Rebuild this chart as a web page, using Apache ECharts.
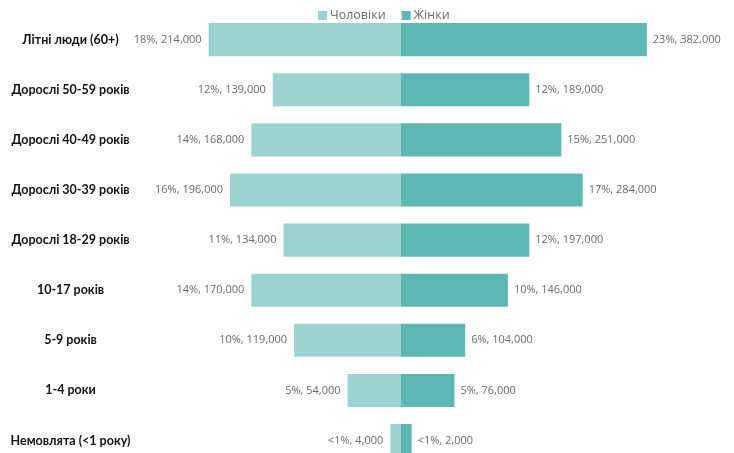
<!DOCTYPE html>
<html>
<head>
<meta charset="utf-8">
<script src="https://cdn.jsdelivr.net/npm/echarts@6/dist/echarts.min.js"></script>
<style>
html,body{margin:0;padding:0;background:#fff;}
#chart{width:734px;height:453px;}
</style>
</head>
<body>
<div id="chart"></div>
<script>
const categories = ['Літні люди (60+)', 'Дорослі 50-59 років', 'Дорослі 40-49 років', 'Дорослі 30-39 років', 'Дорослі 18-29 років', '10-17 років', '5-9 років', '1-4 роки', 'Немовлята (<1 року)'];
const seriesNames = ['Чоловіки', 'Жінки'];
const menPct = [18, 12, 14, 16, 11, 14, 10, 5, 1];
const menPctLabels = ['18%', '12%', '14%', '16%', '11%', '14%', '10%', '5%', '<1%'];
const menCount = [214000, 139000, 168000, 196000, 134000, 170000, 119000, 54000, 4000];
const womenPct = [23, 12, 15, 17, 12, 10, 6, 5, 1];
const womenPctLabels = ['23%', '12%', '15%', '17%', '12%', '10%', '6%', '5%', '<1%'];
const womenCount = [382000, 189000, 251000, 284000, 197000, 146000, 104000, 76000, 2000];

const fmt = n => n.toLocaleString('en-US');
const chart = echarts.init(document.getElementById('chart'), null, {renderer: 'canvas'});
const valueFont = {fontFamily: 'Open Sans', fontSize: 11, color: '#6b6b6b'};
chart.setOption({
  animation: false,
  legend: {
    top: 4, left: 313,
    itemWidth: 9, itemHeight: 9, itemGap: 16,
    icon: 'rect',
    textStyle: {fontFamily: 'Open Sans', fontSize: 12.5, color: '#6b6b6b', padding: [0, 0, 0, -2]},
    data: seriesNames
  },
  grid: {left: 144.5, width: 513, top: 14.6, height: 451, containLabel: false, outerBoundsMode: 'none'},
  xAxis: {type: 'value', min: -24, max: 24, show: false},
  yAxis: {
    type: 'category', data: categories, inverse: true,
    axisLine: {show: false}, axisTick: {show: false},
    axisLabel: {margin: 74, align: 'center', fontFamily: 'Lato', fontWeight: 'bold', fontSize: 12.5, color: '#111'}
  },
  series: [
    {
      name: seriesNames[0], type: 'bar', barWidth: '66%', barGap: '-100%',
      data: menPct.map(v => -v),
      itemStyle: {color: '#9bd4cf'},
      label: {show: true, position: 'left', distance: 7, ...valueFont,
        formatter: p => menPctLabels[p.dataIndex] + ', ' + fmt(menCount[p.dataIndex])}
    },
    {
      name: seriesNames[1], type: 'bar', barWidth: '66%', barGap: '-100%',
      data: womenPct,
      itemStyle: {color: '#5db8b3'},
      label: {show: true, position: 'right', distance: 6, ...valueFont,
        formatter: p => womenPctLabels[p.dataIndex] + ', ' + fmt(womenCount[p.dataIndex])}
    }
  ]
});
</script>
</body>
</html>
